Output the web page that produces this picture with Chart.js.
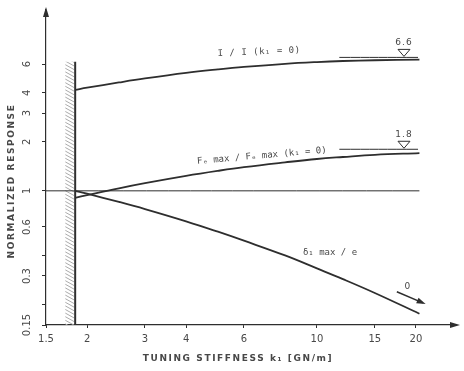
<!DOCTYPE html>
<html>
<head>
<meta charset="utf-8">
<script src="https://cdn.jsdelivr.net/npm/chart.js@4.4.1/dist/chart.umd.min.js"></script>
<style>
html, body { margin: 0; padding: 0; background: #fff; }
</style>
</head>
<body>
<canvas id="responseChart" width="464" height="371"></canvas>
<script>
// tuning stiffness k1 [GN/m] and the three normalized responses
const stiffness       = [1.84, 2, 2.5, 3, 4, 5, 6, 8, 10, 12, 15, 20.5];
const inertiaRatio    = [4.165, 4.3, 4.63, 4.9, 5.3, 5.57, 5.77, 6.03, 6.18, 6.27, 6.34, 6.4];
const forceRatio      = [0.906, 0.941, 1.037, 1.115, 1.236, 1.327, 1.398, 1.496, 1.569, 1.614, 1.664, 1.705];
const deflectionRatio = [1.0, 0.96, 0.855, 0.773, 0.65, 0.561, 0.494, 0.401, 0.334, 0.287, 0.236, 0.176];

const xTicks = [1.5, 2, 3, 4, 6, 10, 15, 20];
const xTickLabels = ['1.5', '2', '3', '4', '6', '10', '15', '20'];
const yTicks = [0.15, 0.2, 0.3, 0.4, 0.6, 1, 2, 3, 4, 6];
const yTickLabels = ['0.15', '', '0.3', '', '0.6', '1', '2', '3', '4', '6'];

// limits for k1 -> infinity
const limitValues = [6.6, 1.8];
const limitLabels = ['6.6', '1.8'];
const limitSpan = [11.7, 20.3];
const limitMarkAt = 18.4;

// lower bound of the usable stiffness range
const wallStiffness = 1.84;
const wallTop = 6.2;

// deflection tends to zero
const zeroArrow = [[17.5, 0.24], [21, 0.205]];

const ink = '#2e2e2e';
const textInk = '#484848';
const FONT = '"DejaVu Sans", sans-serif';
const MONO = '"DejaVu Sans Mono", monospace';

const pts = (xs, ys) => xs.map((k, i) => ({ x: k, y: ys[i] }));

const decor = {
  id: 'decor',
  beforeDatasetsDraw(chart) {
    const { ctx, scales: { x, y } } = chart;
    const wx = x.getPixelForValue(wallStiffness);
    const top = y.getPixelForValue(wallTop);
    const bot = y.bottom;
    ctx.save();
    ctx.beginPath();
    ctx.rect(wx - 10, top, 9, bot - top);
    ctx.clip();
    ctx.strokeStyle = '#ababab';
    ctx.lineWidth = 1;
    for (let yy = top - 8; yy < bot + 4; yy += 3.6) {
      ctx.beginPath();
      ctx.moveTo(wx - 10, yy);
      ctx.lineTo(wx - 1, yy + 5);
      ctx.stroke();
    }
    ctx.restore();
  },
  afterDraw(chart) {
    const { ctx, scales: { x, y } } = chart;
    ctx.save();
    ctx.fillStyle = ink;
    ctx.strokeStyle = ink;

    // axis arrowheads
    const xl = x.left, yb = y.bottom;
    ctx.beginPath();
    ctx.moveTo(x.right + 5, yb);
    ctx.lineTo(x.right - 5, yb - 3);
    ctx.lineTo(x.right - 5, yb + 3);
    ctx.closePath();
    ctx.fill();
    ctx.beginPath();
    ctx.moveTo(xl, y.top - 3);
    ctx.lineTo(xl - 3, y.top + 7);
    ctx.lineTo(xl + 3, y.top + 7);
    ctx.closePath();
    ctx.fill();

    // limit markers
    ctx.lineWidth = 1;
    ctx.font = '9px ' + FONT;
    ctx.letterSpacing = '1px';
    ctx.textAlign = 'center';
    ctx.textBaseline = 'middle';
    limitValues.forEach((v, i) => {
      const px = x.getPixelForValue(limitMarkAt);
      const py = y.getPixelForValue(v);
      ctx.beginPath();
      ctx.moveTo(px - 6, py - 8);
      ctx.lineTo(px + 6, py - 8);
      ctx.lineTo(px, py - 1);
      ctx.closePath();
      ctx.stroke();
      ctx.fillStyle = textInk;
      ctx.fillText(limitLabels[i], px, py - 15);
    });

    // arrow showing the deflection going to zero
    const a0 = [x.getPixelForValue(zeroArrow[0][0]), y.getPixelForValue(zeroArrow[0][1])];
    const a1 = [x.getPixelForValue(zeroArrow[1][0]), y.getPixelForValue(zeroArrow[1][1])];
    const ang = Math.atan2(a1[1] - a0[1], a1[0] - a0[0]);
    ctx.lineWidth = 1.5;
    ctx.beginPath();
    ctx.moveTo(a0[0], a0[1]);
    ctx.lineTo(a1[0], a1[1]);
    ctx.stroke();
    ctx.fillStyle = ink;
    ctx.beginPath();
    ctx.moveTo(a1[0] + 3 * Math.cos(ang), a1[1] + 3 * Math.sin(ang));
    ctx.lineTo(a1[0] - 6 * Math.cos(ang) + 3 * Math.sin(ang), a1[1] - 6 * Math.sin(ang) - 3 * Math.cos(ang));
    ctx.lineTo(a1[0] - 6 * Math.cos(ang) - 3 * Math.sin(ang), a1[1] - 6 * Math.sin(ang) + 3 * Math.cos(ang));
    ctx.closePath();
    ctx.fill();
    ctx.fillStyle = textInk;
    ctx.fillText('0', x.getPixelForValue(18.9), y.getPixelForValue(0.258));

    // curve names
    const label = (text, k, v, deg) => {
      ctx.save();
      ctx.translate(x.getPixelForValue(k), y.getPixelForValue(v));
      ctx.rotate(deg * Math.PI / 180);
      ctx.fillText(text, 0, 0);
      ctx.restore();
    };
    ctx.font = '9px ' + MONO;
    ctx.letterSpacing = '0.5px';
    label('I / I (k₁ = 0)', 6.67, 7.13, -2.5);
    ctx.letterSpacing = '0px';
    label('Fₑ max / Fₑ max (k₁ = 0)', 6.8, 1.64, -5);
    label('δ₁ max / e', 10.96, 0.42, 0);

    // axis titles
    ctx.font = 'bold 9px ' + FONT;
    ctx.letterSpacing = '1.6px';
    ctx.fillText('TUNING STIFFNESS k₁ [GN/m]', 238, 359);
    ctx.save();
    ctx.translate(12, 181);
    ctx.rotate(-Math.PI / 2);
    ctx.fillText('NORMALIZED RESPONSE', 0, 0);
    ctx.restore();
    ctx.restore();
  }
};

const line = (data, width) => ({
  data, borderColor: ink, borderWidth: width, pointRadius: 0,
  tension: 0.4, fill: false
});

new Chart(document.getElementById('responseChart'), {
  type: 'line',
  data: {
    datasets: [
      line(pts(stiffness, inertiaRatio), 1.8),
      line(pts(stiffness, forceRatio), 1.8),
      line(pts(stiffness, deflectionRatio), 1.8),
      line([{ x: 1.5, y: 1 }, { x: 20.5, y: 1 }], 1),
      line(limitSpan.map(k => ({ x: k, y: limitValues[0] })), 1),
      line(limitSpan.map(k => ({ x: k, y: limitValues[1] })), 1),
      line([{ x: wallStiffness, y: 0.15 }, { x: wallStiffness, y: wallTop }], 2)
    ]
  },
  options: {
    responsive: false,
    animation: false,
    devicePixelRatio: 1,
    layout: { padding: { top: 10, right: 9, left: 0, bottom: 0 } },
    plugins: { legend: { display: false }, tooltip: { enabled: false } },
    scales: {
      x: {
        type: 'logarithmic',
        min: 1.5, max: 26.3,
        afterBuildTicks: s => { s.ticks = xTicks.map(v => ({ value: v })); },
        afterFit: s => { s.height = 46; },
        ticks: {
          autoSkip: false, maxRotation: 0, padding: 5,
          color: textInk, font: { family: FONT, size: 10 },
          callback: (v, i) => xTickLabels[i]
        },
        grid: { drawOnChartArea: false, tickLength: 3, color: ink },
        border: { color: ink, width: 1.2 }
      },
      y: {
        type: 'logarithmic',
        min: 0.15, max: 12.9,
        afterBuildTicks: s => { s.ticks = yTicks.map(v => ({ value: v })); },
        afterFit: s => { s.width = 46; },
        ticks: {
          autoSkip: false, minRotation: 90, maxRotation: 90, crossAlign: 'center', padding: 3,
          color: textInk, font: { family: FONT, size: 10 },
          callback: (v, i) => yTickLabels[i]
        },
        grid: { drawOnChartArea: false, tickLength: 4, color: ink },
        border: { color: ink, width: 1.2 }
      }
    }
  },
  plugins: [decor]
});
</script>
</body>
</html>
